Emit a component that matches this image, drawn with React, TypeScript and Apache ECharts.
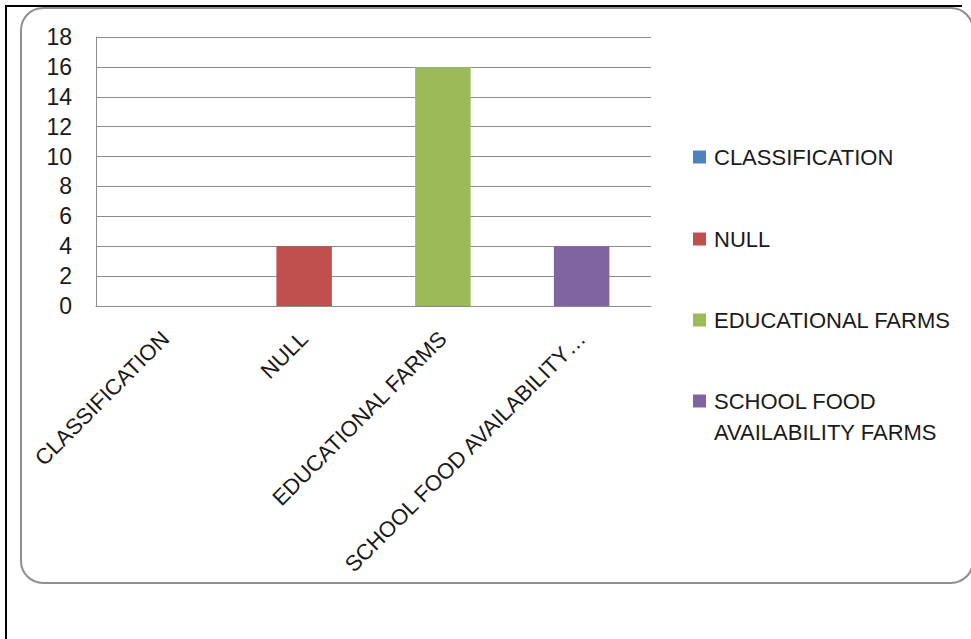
import React, { useEffect, useRef } from "react";
import * as echarts from "echarts";

const categories = ["CLASSIFICATION", "NULL", "EDUCATIONAL FARMS", "SCHOOL FOOD AVAILABILITY FARMS"];
const tickLabels = ["CLASSIFICATION", "NULL", "EDUCATIONAL FARMS", "SCHOOL FOOD AVAILABILITY…"];
const legendLabels = ["CLASSIFICATION", "NULL", "EDUCATIONAL FARMS", "SCHOOL FOOD\nAVAILABILITY FARMS"];
const values = [0, 4, 16, 4];
const colors = ["#4F81BD", "#C0504D", "#9BBB59", "#8064A2"];

const FONT = "'Liberation Sans', Arial, sans-serif";
const FS = 22;

export default function App() {
  const ref = useRef<HTMLDivElement>(null);
  useEffect(() => {
    if (!ref.current) return;
    const chart = echarts.init(ref.current, null, { renderer: "svg" });
    const legendCenters = [157, 239, 320, 401];
    const LH = 31;
    const legends = categories.map((name, i) => {
      const multi = legendLabels[i].includes("\n");
      return {
        data: [name],
        left: 693,
        top: multi ? legendCenters[i] - LH * 1.5 : legendCenters[i] - LH / 2,
        padding: 0,
        orient: "vertical",
        icon: "rect",
        itemWidth: 13,
        itemHeight: 13,
        selectedMode: false,
        // a blank first line keeps the icon level with the first text line
        formatter: () => (multi ? " \n" + legendLabels[i] : legendLabels[i]),
        textStyle: {
          fontFamily: FONT,
          fontSize: FS,
          color: "#1a1a1a",
          lineHeight: LH,
          padding: [0, 0, 0, 3],
        },
      };
    });
    const series = categories.map((name, i) => ({
      name,
      type: "bar",
      stack: "all",
      barWidth: "40%",
      itemStyle: { color: colors[i] },
      data: values.map((v, j) => (j === i ? v : "-")),
    }));
    chart.setOption({
      animation: false,
      backgroundColor: "#ffffff",
      textStyle: { fontFamily: FONT },
      graphic: [
        {
          type: "rect",
          shape: { x: 21, y: 8, width: 952, height: 575, r: 22 },
          style: { fill: "none", stroke: "#8f8f8f", lineWidth: 2 },
          z: 0,
        },
        {
          type: "line",
          shape: { x1: 5, y1: 6, x2: 962, y2: 6 },
          style: { stroke: "#000", lineWidth: 2 },
        },
        {
          type: "line",
          shape: { x1: 6, y1: 5, x2: 6, y2: 639 },
          style: { stroke: "#000", lineWidth: 2 },
        },
      ],
      legend: legends,
      grid: { left: 96, top: 37, width: 555, height: 269, containLabel: false },
      xAxis: {
        type: "category",
        data: categories,
        axisLine: { show: true, lineStyle: { color: "#8c8c8c", width: 1 } },
        axisTick: { show: false },
        axisLabel: {
          interval: 0,
          rotate: 45,
          margin: 29,
          fontFamily: FONT,
          fontSize: FS,
          color: "#1a1a1a",
          formatter: (_v: string, idx: number) => tickLabels[idx],
        },
      },
      yAxis: {
        type: "value",
        min: 0,
        max: 18,
        interval: 2,
        axisLine: { show: true, lineStyle: { color: "#8c8c8c", width: 1 } },
        axisTick: { show: false },
        splitLine: { show: true, lineStyle: { color: "#8c8c8c", width: 1 } },
        axisLabel: {
          margin: 24,
          fontFamily: FONT,
          fontSize: 23,
          color: "#1a1a1a",
        },
      },
      series,
    });
    return () => chart.dispose();
  }, []);
  return (
    <div
      ref={ref}
      style={{ position: "absolute", left: 0, top: 0, width: 971, height: 639, background: "#fff" }}
    />
  );
}
